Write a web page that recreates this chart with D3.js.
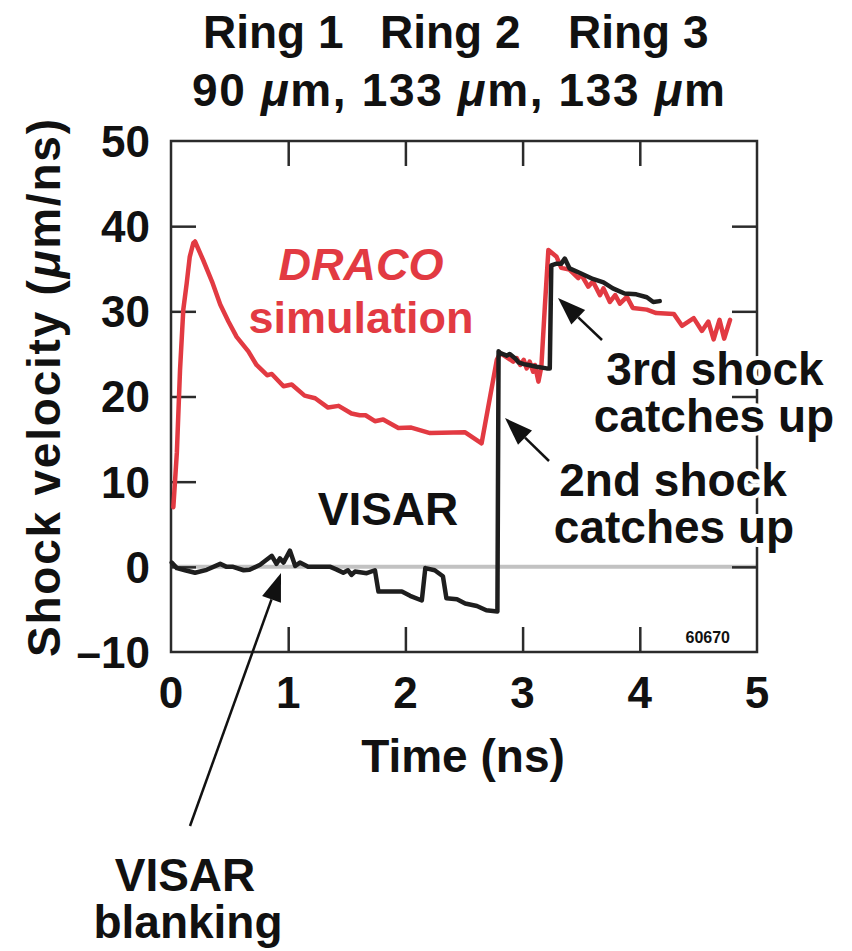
<!DOCTYPE html>
<html>
<head>
<meta charset="utf-8">
<script src="https://cdn.jsdelivr.net/npm/d3@7"></script>
<style>
  html, body { margin: 0; padding: 0; background: #fff; }
  svg text { font-family: "Liberation Sans", Arial, Helvetica, sans-serif; font-weight: bold; }
</style>
</head>
<body>
<svg id="chart" width="852" height="951"></svg>
<script>
// DRACO simulated shock velocity (time in ns, velocity in µm/ns)
const dracoTime = [0.02, 0.05, 0.077, 0.105, 0.134, 0.16, 0.19, 0.205, 0.275, 0.35, 0.42, 0.49, 0.56, 0.66, 0.73, 0.82, 0.86, 0.96, 1.03, 1.14, 1.23, 1.34, 1.43, 1.54, 1.61, 1.66, 1.74, 1.81, 1.94, 2.05, 2.21, 2.51, 2.65, 2.78, 2.81, 2.865, 2.92, 2.95, 2.98, 3.01, 3.035, 3.06, 3.09, 3.105, 3.135, 3.16, 3.19, 3.22, 3.29, 3.33, 3.40, 3.475, 3.50, 3.56, 3.60, 3.66, 3.69, 3.745, 3.79, 3.83, 3.89, 3.94, 4.06, 4.14, 4.29, 4.36, 4.46, 4.53, 4.585, 4.63, 4.68, 4.72, 4.77];
const dracoVel  = [7.0, 13.4, 23.1, 30.2, 33.3, 36.4, 38.0, 38.2, 36.0, 33.5, 30.8, 28.8, 27.0, 25.3, 23.7, 22.5, 22.65, 21.2, 21.4, 20.1, 19.8, 18.7, 18.9, 18.0, 17.8, 17.8, 17.1, 17.3, 16.3, 16.35, 15.7, 15.8, 14.5, 24.3, 25.1, 24.6, 24.1, 24.5, 23.7, 24.3, 23.3, 24.1, 22.9, 23.7, 21.75, 23.5, 30.6, 37.2, 36.4, 35.1, 34.9, 33.9, 34.3, 32.9, 33.5, 31.9, 32.7, 31.1, 31.9, 30.9, 31.7, 30.4, 30.2, 29.8, 29.7, 28.3, 29.2, 27.7, 28.8, 26.7, 29.0, 26.8, 29.0];

// VISAR measured shock velocity
const visarTime = [0.006, 0.05, 0.12, 0.205, 0.305, 0.42, 0.475, 0.53, 0.62, 0.67, 0.76, 0.86, 0.90, 0.93, 0.96, 1.015, 1.06, 1.10, 1.17, 1.24, 1.36, 1.41, 1.47, 1.51, 1.54, 1.57, 1.67, 1.74, 1.77, 1.97, 2.04, 2.14, 2.17, 2.25, 2.32, 2.35, 2.44, 2.51, 2.61, 2.69, 2.785, 2.795, 2.81, 2.865, 2.89, 2.935, 2.965, 3.01, 3.05, 3.12, 3.205, 3.232, 3.245, 3.29, 3.33, 3.36, 3.40, 3.49, 3.60, 3.69, 3.77, 3.87, 3.97, 4.06, 4.115, 4.17];
const visarVel  = [0.5, -0.15, -0.4, -0.7, -0.35, 0.35, 0.0, 0.0, -0.4, -0.35, 0.25, 1.3, 0.35, 1.0, 0.5, 1.9, 0.1, 0.5, 0.0, 0.0, 0.0, -0.3, -0.7, -0.4, -0.95, -0.55, -0.75, -0.4, -2.9, -2.9, -3.4, -3.95, -0.15, -0.4, -1.1, -3.7, -3.8, -4.3, -4.6, -5.1, -5.25, 25.3, 25.1, 24.8, 25.0, 24.5, 24.0, 23.8, 23.7, 23.5, 23.3, 23.3, 35.4, 35.6, 35.6, 36.2, 35.05, 34.5, 33.8, 33.4, 32.7, 32.1, 32.0, 31.65, 31.1, 31.2];

// Axis ticks
const xTicks = [0, 1, 2, 3, 4, 5];
const yTicks = [-10, 0, 10, 20, 30, 40, 50];

const RED = "#e23a42";
const INK = "#111";
const FRAME = "#2b2b2b";

const margin = { left: 171, top: 141 };
const W = 586, H = 511;

const svg = d3.select("#chart");
const g = svg.append("g").attr("transform", `translate(${margin.left},${margin.top})`);

const x = d3.scaleLinear().domain([0, 5]).range([0, W]);
const y = d3.scaleLinear().domain([-10, 50]).range([H, 0]);

// zero reference line
g.append("line")
  .attr("x1", x(0)).attr("x2", x(5))
  .attr("y1", y(0)).attr("y2", y(0))
  .attr("stroke", "#c2c2c2").attr("stroke-width", 4);

// inward ticks on all four sides
const tickLen = 25;
const axisStyle = sel => {
  sel.select(".domain").remove();
  sel.selectAll(".tick line").attr("stroke", FRAME).attr("stroke-width", 2.5);
  sel.selectAll(".tick text").remove();
};
g.append("g").attr("transform", `translate(0,${H})`)
  .call(d3.axisBottom(x).tickValues(xTicks.slice(1, -1)).tickSize(-tickLen)).call(axisStyle);
g.append("g")
  .call(d3.axisTop(x).tickValues(xTicks.slice(1, -1)).tickSize(-tickLen)).call(axisStyle);
g.append("g")
  .call(d3.axisLeft(y).tickValues(yTicks.slice(1, -1)).tickSize(-tickLen)).call(axisStyle);
g.append("g").attr("transform", `translate(${W},0)`)
  .call(d3.axisRight(y).tickValues(yTicks.slice(1, -1)).tickSize(-tickLen)).call(axisStyle);

// frame
g.append("rect").attr("x", 0).attr("y", 0).attr("width", W).attr("height", H)
  .attr("fill", "none").attr("stroke", FRAME).attr("stroke-width", 2.5);

// tick labels
g.selectAll(".xl").data(xTicks).join("text")
  .attr("x", d => x(d)).attr("y", H + 56)
  .attr("text-anchor", "middle").attr("font-size", 44).attr("fill", INK)
  .text(d => d);
g.selectAll(".yl").data(yTicks).join("text")
  .attr("x", -21).attr("y", d => y(d)).attr("dy", "0.36em")
  .attr("text-anchor", "end").attr("font-size", 44).attr("fill", INK)
  .text(d => d < 0 ? "\u2013" + Math.abs(d) : d);

// series
const line = d3.line().x(d => x(d[0])).y(d => y(d[1]));
const draco = dracoTime.map((t, i) => [t, dracoVel[i]]);
const visar = visarTime.map((t, i) => [t, visarVel[i]]);

g.append("path").datum(draco).attr("d", line)
  .attr("fill", "none").attr("stroke", RED).attr("stroke-width", 4.5)
  .attr("stroke-linejoin", "round").attr("stroke-linecap", "round");
g.append("path").datum(visar).attr("d", line)
  .attr("fill", "none").attr("stroke", "#1e1e1e").attr("stroke-width", 4.5)
  .attr("stroke-linejoin", "round").attr("stroke-linecap", "round");

// figure id
svg.append("text").attr("x", 730).attr("y", 643).attr("text-anchor", "end")
  .attr("font-size", 16).attr("fill", INK).text("60670");

// titles
const title1 = [["Ring 1", 203], ["Ring 2", 380], ["Ring 3", 568]];
svg.selectAll(".t1").data(title1).join("text")
  .attr("x", d => d[1]).attr("y", 48).attr("font-size", 46).attr("fill", INK)
  .text(d => d[0]);

const t2 = svg.append("text").attr("x", 192).attr("y", 106)
  .attr("font-size", 46).attr("fill", INK)
  .attr("textLength", 533).attr("lengthAdjust", "spacing");
[["90 ", false], ["\u03bc", true], ["m, 133 ", false], ["\u03bc", true], ["m, 133 ", false], ["\u03bc", true], ["m", false]]
  .forEach(([s, it]) => t2.append("tspan").attr("font-style", it ? "italic" : "normal").text(s));

// axis titles
svg.append("text").attr("x", 463).attr("y", 772).attr("text-anchor", "middle")
  .attr("font-size", 46).attr("fill", INK).text("Time (ns)");

const yt = svg.append("text").attr("transform", "translate(60,388) rotate(-90)")
  .attr("text-anchor", "middle").attr("font-size", 46).attr("fill", INK)
  .attr("textLength", 538).attr("lengthAdjust", "spacing");
yt.append("tspan").text("Shock velocity (");
yt.append("tspan").attr("font-style", "italic").text("\u03bc");
yt.append("tspan").text("m/ns)");

// annotations
svg.append("text").attr("x", 361).attr("y", 280).attr("text-anchor", "middle")
  .attr("font-size", 45).attr("font-style", "italic").attr("fill", RED).text("DRACO");
svg.append("text").attr("x", 361).attr("y", 333).attr("text-anchor", "middle")
  .attr("font-size", 45).attr("fill", RED).text("simulation");
svg.append("text").attr("x", 388).attr("y", 525).attr("text-anchor", "middle")
  .attr("font-size", 46).attr("fill", INK).text("VISAR");

// callout labels sit on a white knockout so frame and ticks do not show through
const labels = [
  ["3rd shock", 715, 385], ["catches up", 714, 432],
  ["2nd shock", 673, 496], ["catches up", 674, 543],
  ["VISAR", 185, 891], ["blanking", 188, 938]
];
svg.selectAll(".ann").data(labels).join("text")
  .attr("x", d => d[1]).attr("y", d => d[2]).attr("text-anchor", "middle")
  .attr("font-size", 46).attr("fill", INK)
  .attr("stroke", "#fff").attr("stroke-width", 8).attr("stroke-linejoin", "round")
  .attr("paint-order", "stroke")
  .text(d => d[0]);

// arrows: [tail x, tail y, tip x, tip y]
const arrows = [[602, 340, 558, 298], [549, 461, 505, 418], [190, 826, 281, 573]];
arrows.forEach(([x1, y1, x2, y2]) => {
  const ang = Math.atan2(y2 - y1, x2 - x1);
  const len = 28, half = 10;
  const bx = x2 - len * Math.cos(ang), by = y2 - len * Math.sin(ang);
  svg.append("line").attr("x1", x1).attr("y1", y1).attr("x2", bx).attr("y2", by)
    .attr("stroke", INK).attr("stroke-width", 2.5);
  const px = -Math.sin(ang) * half, py = Math.cos(ang) * half;
  svg.append("path")
    .attr("d", `M${x2},${y2}L${bx + px},${by + py}L${bx - px},${by - py}Z`)
    .attr("fill", INK);
});
</script>
</body>
</html>
